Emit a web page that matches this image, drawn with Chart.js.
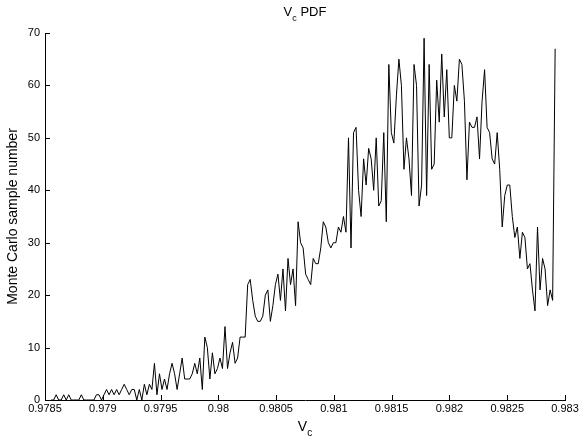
<!DOCTYPE html>
<html><head><meta charset="utf-8">
<script src="https://cdn.jsdelivr.net/npm/chart.js@4.4.1/dist/chart.umd.min.js"></script>
<style>html,body{margin:0;padding:0;background:#fff;}canvas{display:block;}</style>
</head><body>
<canvas id="c" width="579" height="443"></canvas>
<script>
// Histogram bins of V_c (bin centres: first centre + constant bin width)
const binStart = 0.9785528;
const binWidth = 0.00002181;
// Monte Carlo sample counts per bin
const countsLow = [0,0,1,0,0,1,0,1,0,0,0,0,1,0,0,0,0,0,1,1,0,1,2,1,2,1,2,1,2,3,2,1,2,2,0];
const countsRise = [2,0,3,1,3,2,7,1,5,2,4,2,5,7,5,2,5,8,4,4,4,5,7,5,8,2,12,10,4,9,5,6,8,6,14,6];
const countsMid = [9,11,7,8,12,12,12,22,23,19,16,15,15,16,20,21,15,18,22,24,19,25,17,27,22,25,18,34,30,29,24,23,22,27,26,26,29,34,33,30,29,30,30,33,32,35,32];
const countsHigh = [50,29,51,52,40,35,46,41,48,46,40,50,37,38,51,34,64,51,49,58,65,60,44,50,46,39,64,60,37,41,69,39,64,44,45,61,53,66,54,63,50,50,60,57,65,64,57,42,53,52,52,54,46,57,63,52,51,46,45,51,44,33,39,41,41,35,31,33,27,32,31,25,26,21,17,33,21,27,25,18,21,19,67];
const xTickValues = [0.9785,0.979,0.9795,0.98,0.9805,0.981,0.9815,0.982,0.9825,0.983];
const yTickValues = [0,10,20,30,40,50,60,70];
const titleMain = 'V', titleSub = 'c', titleRest = ' PDF';
const xLabelMain = 'V', xLabelSub = 'c';
const yLabel = 'Monte Carlo sample number';

const counts = countsLow.concat(countsRise, countsMid, countsHigh);
const points = counts.map((v, i) => ({x: binStart + i * binWidth, y: v}));

const FONT = '"Liberation Sans", Arial, sans-serif';
const TICK = 5;

const extras = {
  id: 'extras',
  afterDraw(chart) {
    const ctx = chart.ctx;
    const ca = chart.chartArea;
    const xs = chart.scales.x, ys = chart.scales.y;
    // inward tick marks (MATLAB style)
    ctx.save();
    ctx.strokeStyle = '#000';
    ctx.lineWidth = 1;
    ctx.beginPath();
    xs.ticks.forEach(t => {
      const px = Math.round(xs.getPixelForValue(t.value)) + 0.5;
      ctx.moveTo(px, ca.bottom);
      ctx.lineTo(px, ca.bottom - TICK);
    });
    ys.ticks.forEach(t => {
      const py = Math.round(ys.getPixelForValue(t.value)) + 0.5;
      ctx.moveTo(ca.left, py);
      ctx.lineTo(ca.left + TICK, py);
    });
    ctx.stroke();
    ctx.restore();

    const cx = (ca.left + ca.right) / 2;
    function drawSub(main, sub, rest, size, baseY) {
      ctx.save();
      ctx.fillStyle = '#000';
      ctx.textBaseline = 'alphabetic';
      ctx.textAlign = 'left';
      const subSize = Math.round(size * 0.72);
      ctx.font = size + 'px ' + FONT;
      const wM = ctx.measureText(main).width;
      const wR = rest ? ctx.measureText(rest).width : 0;
      ctx.font = subSize + 'px ' + FONT;
      const wS = ctx.measureText(sub).width;
      let x = cx - (wM + wS + wR) / 2;
      ctx.font = size + 'px ' + FONT;
      ctx.fillText(main, x, baseY);
      x += wM;
      ctx.font = subSize + 'px ' + FONT;
      ctx.fillText(sub, x, baseY + size * 0.38);
      x += wS;
      if (rest) { ctx.font = size + 'px ' + FONT; ctx.fillText(rest, x, baseY); }
      ctx.restore();
    }
    drawSub(titleMain, titleSub, titleRest, 13, 16);
    drawSub(xLabelMain, xLabelSub, '', 14, 431);
  }
};

new Chart(document.getElementById('c'), {
  type: 'line',
  data: { datasets: [{
    data: points,
    borderColor: '#000',
    borderWidth: 1,
    pointRadius: 0,
    tension: 0,
    fill: false
  }]},
  options: {
    responsive: false,
    animation: false,
    layout: { padding: { top: 33, right: 14, left: 0, bottom: 0 } },
    plugins: { legend: { display: false }, tooltip: { enabled: false }, title: { display: false } },
    scales: {
      x: {
        type: 'linear',
        min: 0.9785, max: 0.983,
        afterBuildTicks: s => { s.ticks = xTickValues.map(v => ({ value: v })); },
        afterFit: s => { s.height = 43; s.paddingLeft = 0; s.paddingRight = 0; },
        ticks: { color: '#000', font: { family: FONT, size: 11 }, padding: 2, maxRotation: 0, autoSkip: false,
                 callback: v => String(v) },
        grid: { drawOnChartArea: false, drawTicks: false, color: '#000', lineWidth: 1 },
        border: { display: true, color: '#000', width: 1 }
      },
      y: {
        min: 0, max: 70,
        afterBuildTicks: s => { s.ticks = yTickValues.map(v => ({ value: v })); },
        afterFit: s => { s.width = 45; s.paddingTop = 0; s.paddingBottom = 0; },
        ticks: { color: '#000', font: { family: FONT, size: 11 }, padding: 5, callback: v => String(v) },
        grid: { drawOnChartArea: false, drawTicks: false, color: '#000', lineWidth: 1 },
        border: { display: true, color: '#000', width: 1 },
        title: { display: true, text: yLabel, color: '#000', font: { family: FONT, size: 14 }, padding: { top: 5, bottom: 0 } }
      }
    }
  },
  plugins: [extras]
});
</script>
</body></html>
